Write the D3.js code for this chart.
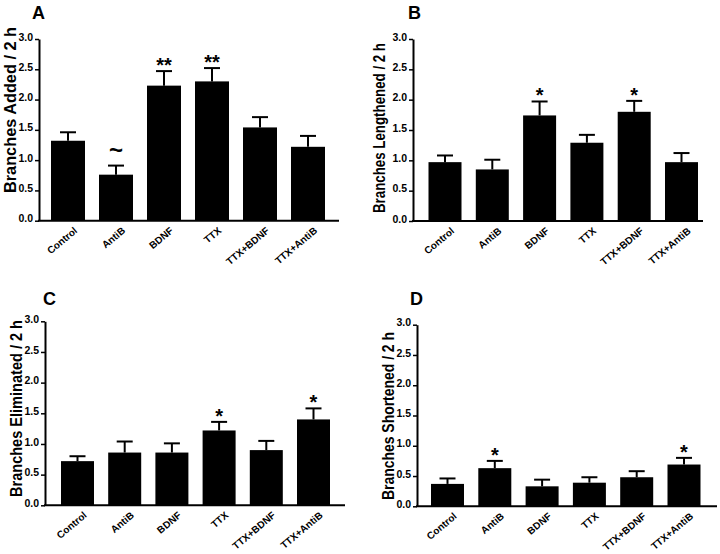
<!DOCTYPE html>
<html>
<head>
<meta charset="utf-8">
<script src="https://cdn.jsdelivr.net/npm/d3@7/dist/d3.min.js"></script>
<style>
  html, body { margin: 0; padding: 0; background: #fff; }
  svg { display: block; font-family: "Liberation Sans", Arial, Helvetica, sans-serif; font-weight: bold; }
</style>
</head>
<body>
<svg id="chart" width="720" height="554"></svg>
<script>
// ---- data ----
const categories = ["Control", "AntiB", "BDNF", "TTX", "TTX+BDNF", "TTX+AntiB"];
const yTicks = [0, 0.5, 1.0, 1.5, 2.0, 2.5, 3.0];

const addedMean = [1.32, 0.76, 2.23, 2.30, 1.54, 1.22];
const addedSem  = [0.14, 0.15, 0.24, 0.22, 0.17, 0.18];
const addedSig  = ["", "~", "**", "**", "", ""];

const lengthenedMean = [0.97, 0.85, 1.74, 1.29, 1.80, 0.97];
const lengthenedSem  = [0.11, 0.16, 0.23, 0.13, 0.18, 0.15];
const lengthenedSig  = ["", "", "*", "", "*", ""];

const eliminatedMean = [0.72, 0.86, 0.86, 1.22, 0.90, 1.40];
const eliminatedSem  = [0.08, 0.18, 0.15, 0.14, 0.15, 0.18];
const eliminatedSig  = ["", "", "", "*", "", "*"];

const shortenedMean = [0.37, 0.63, 0.33, 0.39, 0.48, 0.69];
const shortenedSem  = [0.09, 0.12, 0.11, 0.09, 0.10, 0.11];
const shortenedSig  = ["", "*", "", "", "", "*"];

const panels = [
  { letter: "A", label: "Branches Added / 2 h", mean: addedMean, sem: addedSem, sig: addedSig,
    axisX: 39, y0: 220.7, y3: 39, xEnd: 339, bar0: 51, step: 48, bw: 34,
    letterX: 32, letterY: 19, labelX: 16, labelCY: 110, labelLen: 166 },
  { letter: "B", label: "Branches Lengthened / 2 h", mean: lengthenedMean, sem: lengthenedSem, sig: lengthenedSig,
    axisX: 413, y0: 221, y3: 39, xEnd: 703, bar0: 428.5, step: 47.3, bw: 33,
    letterX: 408, letterY: 19, labelX: 385, labelCY: 128, labelLen: 170 },
  { letter: "C", label: "Branches Eliminated / 2 h", mean: eliminatedMean, sem: eliminatedSem, sig: eliminatedSig,
    axisX: 45, y0: 505.3, y3: 321.3, xEnd: 345, bar0: 61, step: 47.2, bw: 33,
    letterX: 43, letterY: 305, labelX: 22, labelCY: 408.5, labelLen: 177 },
  { letter: "D", label: "Branches Shortened / 2 h", mean: shortenedMean, sem: shortenedSem, sig: shortenedSig,
    axisX: 417, y0: 506.3, y3: 324.7, xEnd: 717, bar0: 431, step: 47.3, bw: 33,
    letterX: 410, letterY: 305, labelX: 394, labelCY: 416, labelLen: 168 }
];

const svg = d3.select("#chart");

panels.forEach(p => {
  const g = svg.append("g");
  const n = categories.length;
  const pi = 1 - p.bw / p.step;
  const x = d3.scaleBand().domain(categories)
    .range([p.bar0, p.bar0 + p.step * (n - pi)])
    .paddingInner(pi).paddingOuter(0);
  const y = d3.scaleLinear().domain([0, 3]).range([p.y0, p.y3]);

  const rows = categories.map((c, i) => ({ c, m: p.mean[i], s: p.sem[i], sig: p.sig[i] }));

  // bars
  g.selectAll("rect.bar").data(rows).enter().append("rect")
    .attr("x", d => x(d.c)).attr("width", x.bandwidth())
    .attr("y", d => y(d.m)).attr("height", d => y(0) - y(d.m))
    .attr("fill", "#000");

  // error bars (upper only)
  const cap = 16;
  g.selectAll("line.err").data(rows).enter().append("line")
    .attr("x1", d => x(d.c) + x.bandwidth() / 2).attr("x2", d => x(d.c) + x.bandwidth() / 2)
    .attr("y1", d => y(d.m)).attr("y2", d => y(d.m + d.s))
    .attr("stroke", "#000").attr("stroke-width", 2);
  g.selectAll("line.cap").data(rows).enter().append("line")
    .attr("x1", d => x(d.c) + x.bandwidth() / 2 - cap / 2).attr("x2", d => x(d.c) + x.bandwidth() / 2 + cap / 2)
    .attr("y1", d => y(d.m + d.s)).attr("y2", d => y(d.m + d.s))
    .attr("stroke", "#000").attr("stroke-width", 2);

  // significance marks
  g.selectAll("text.sig").data(rows.filter(d => d.sig)).enter().append("text")
    .attr("x", d => x(d.c) + x.bandwidth() / 2)
    .attr("y", d => d.sig === "~" ? y(d.m + d.s) - 8 : y(d.m + d.s) + 1)
    .attr("text-anchor", "middle")
    .attr("font-size", d => d.sig === "~" ? 24 : 20)
    .text(d => d.sig);

  // y axis
  const yAxis = d3.axisLeft(y).tickValues(yTicks).tickFormat(d3.format(".1f"))
    .tickSize(4).tickSizeOuter(0).tickPadding(2);
  const ya = g.append("g").attr("transform", `translate(${p.axisX},0)`).call(yAxis);
  ya.select(".domain").attr("stroke-width", 2).attr("stroke", "#000");
  ya.selectAll(".tick line").attr("stroke-width", 1.5).attr("stroke", "#000");
  ya.selectAll(".tick text").attr("font-size", 10.5).attr("font-weight", "bold")
    .attr("font-family", "Liberation Sans, Arial, sans-serif").attr("fill", "#000")
    .attr("dy", "0.1em");

  // x axis line
  g.append("line").attr("x1", p.axisX - 1).attr("x2", p.xEnd)
    .attr("y1", y(0)).attr("y2", y(0)).attr("stroke", "#000").attr("stroke-width", 2);

  // x labels
  const xAxis = d3.axisBottom(x).tickSize(0).tickPadding(0);
  const xa = g.append("g").attr("transform", `translate(0,${y(0)})`).call(xAxis);
  xa.select(".domain").remove();
  xa.selectAll(".tick text")
    .attr("font-size", 10).attr("font-weight", "bold")
    .attr("font-family", "Liberation Sans, Arial, sans-serif").attr("fill", "#000")
    .attr("text-anchor", "end")
    .attr("dy", null).attr("y", 0)
    .attr("transform", "translate(10,11) rotate(-40)");

  // y label
  g.append("text")
    .attr("transform", `translate(${p.labelX},${p.labelCY}) rotate(-90)`)
    .attr("text-anchor", "middle")
    .attr("font-size", 16)
    .attr("textLength", p.labelLen).attr("lengthAdjust", "spacingAndGlyphs")
    .text(p.label);

  // panel letter
  g.append("text").attr("x", p.letterX).attr("y", p.letterY)
    .attr("font-size", 18).text(p.letter);
});
</script>
</body>
</html>
